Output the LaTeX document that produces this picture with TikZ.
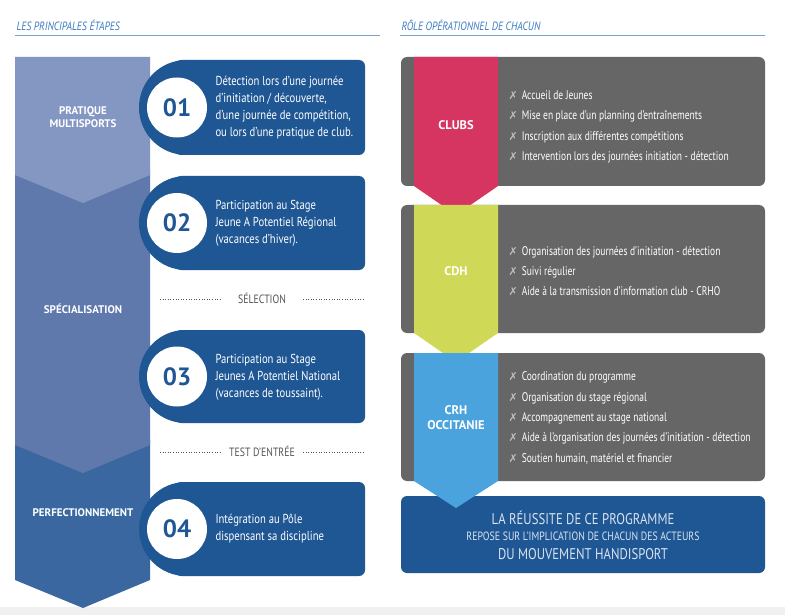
\documentclass[tikz,border=0pt]{standalone}
\usepackage{fontspec}
\setmainfont{PT Sans}
\newfontfamily\cond[FakeStretch=0.82]{PT Sans}
\newfontfamily\condn[FakeStretch=0.76]{PT Sans}
\newfontfamily\symf{DejaVu Sans}
\definecolor{hdr}{HTML}{3C7CC0}
\definecolor{dblue}{HTML}{1F5694}
\definecolor{seg1}{HTML}{8497C2}
\definecolor{seg2}{HTML}{6079AD}
\definecolor{seg3}{HTML}{3A67A0}
\definecolor{gbox}{HTML}{666666}
\definecolor{pinkc}{HTML}{D63461}
\definecolor{yelc}{HTML}{D0D957}
\definecolor{bluc}{HTML}{4AA3DC}
\definecolor{xmk}{HTML}{BDBDBD}
\definecolor{lt}{HTML}{D8E3F0}
\definecolor{dotc}{HTML}{555555}
\begin{document}
\begin{tikzpicture}[x=1pt,y=-1pt,
  hdrtxt/.style={anchor=west,text=hdr,font=\cond\itshape\fontsize{12}{14}\selectfont},
  segtxt/.style={text=white,font=\bfseries\fontsize{11}{13}\selectfont,align=center},
  steptxt/.style={anchor=west,text=white,align=left,font=\cond\fontsize{13}{17}\selectfont},
  numtxt/.style={circle,fill=white,minimum size=60pt,inner sep=0pt,text=dblue,font=\bfseries\fontsize{25}{25}\selectfont},
  sep/.style={text=dotc,font=\cond\fontsize{12}{14}\selectfont},
  dotl/.style={dotted,dotc,line width=0.6pt},
  item/.style={anchor=west,text=white,align=left,font=\condn\fontsize{12.5}{20.4}\selectfont},
  role/.style={text=white,font=\bfseries\fontsize{12.5}{15}\selectfont,align=center},
]
\useasboundingbox (0,0) rectangle (785,615);
\fill[white] (0,0) rectangle (785,615);
\fill[black!6] (0,607) rectangle (785,615);
% headers
\node[hdrtxt] (h1) at (13,25) {LES PRINCIPALES ÉTAPES};
\draw[hdr!70,line width=0.8pt] (15,35) -- (380,35);
\node[hdrtxt] (h2) at (398,25) {RÔLE OPÉRATIONNEL DE CHACUN};
\draw[hdr!70,line width=0.8pt] (400,35) -- (765,35);
% chevron column
\fill[seg3] (15,440) -- (150,440) -- (150,580) -- (83,608) -- (15,580) -- cycle;
\fill[seg2] (15,170) -- (150,170) -- (150,445) -- (83,473) -- (15,445) -- cycle;
\fill[seg1] (15,57) -- (150,57) -- (150,175) -- (83,203) -- (15,175) -- cycle;
\node[segtxt] (s1) at (83,117) {PRATIQUE\\MULTISPORTS};
\node[segtxt] (s2) at (83,309) {SPÉCIALISATION};
\node[segtxt] (s3) at (83,513) {PERFECTIONNEMENT};
% step boxes
\foreach \t/\b/\n in {60/155/01,176/270/02,330/423/03,482/576/04}{
  \pgfmathsetmacro\r{(\b-\t)/2}
  \fill[dblue,rounded corners=6pt] (175,\t) rectangle (365,\b);
  \fill[dblue] ({139+\r},{(\t+\b)/2}) circle[radius=\r];
  \fill[dblue] ({139+\r},\t) rectangle (200,\b);
  \node[numtxt] (n\n) at (177,{(\t+\b)/2}) {\n};
}
\node[steptxt] (t1) at (212,108) {Détection lors d’une journée\\d’initiation / découverte,\\d’une journée de compétition,\\ou lors d’une pratique de club.};
\node[steptxt] (t2) at (212,223) {Participation au Stage\\Jeune A Potentiel Régional\\(vacances d’hiver).};
\node[steptxt] (t3) at (212,377) {Participation au Stage\\Jeunes A Potentiel National\\(vacances de toussaint).};
\node[steptxt] (t4) at (212,529) {Intégration au Pôle\\dispensant sa discipline};
% separators
\node[sep] (sel) at (262,298) {SÉLECTION};
\draw[dotl] (160,299) -- (220,299);
\draw[dotl] (303,299) -- (365,299);
\node[sep] (test) at (262,451) {TEST D’ENTRÉE};
\draw[dotl] (160,452) -- (220,452);
\draw[dotl] (303,452) -- (365,452);
% right side
\fill[dblue,rounded corners=6pt] (401,496) rectangle (765,573);
\foreach \t/\b in {57/186,205/333,353/481}{
  \fill[gbox,rounded corners=6pt] (401,\t) rectangle (765,\b);
}
\fill[pinkc] (414,57) -- (498,57) -- (498,186) -- (456,215) -- (414,186) -- cycle;
\fill[yelc] (414,205) -- (498,205) -- (498,333) -- (456,362) -- (414,333) -- cycle;
\fill[bluc] (414,353) -- (498,353) -- (498,481) -- (456,508) -- (414,481) -- cycle;
\node[role] (r1) at (456,125) {CLUBS};
\node[role] (r2) at (456,271) {CDH};
\node[role] (r3) at (456,418) {CRH\\OCCITANIE};
\newcommand\xm{{\color{xmk}\symf\fontsize{11}{11}\selectfont ✗}\hspace{4pt}}
\node[item] (i1) at (505,127) {\xm Accueil de Jeunes\\\xm Mise en place d’un planning d’entraînements\\\xm Inscription aux différentes compétitions\\\xm Intervention lors des journées initiation - détection};
\node[item] (i2) at (505,271) {\xm Organisation des journées d’initiation - détection\\\xm Suivi régulier\\\xm Aide à la transmission d’information club - CRHO};
\node[item] (i3) at (505,418) {\xm Coordination du programme\\\xm Organisation du stage régional\\\xm Accompagnement au stage national\\\xm Aide à l’organisation des journées d’initiation - détection\\\xm Soutien humain, matériel et financier};
\node[text=lt,font=\cond\fontsize{15.5}{16}\selectfont] (b1) at (583,518) {LA RÉUSSITE DE CE PROGRAMME};
\node[text=lt,font=\cond\fontsize{12}{13}\selectfont] (b2) at (583,536) {REPOSE SUR L’IMPLICATION DE CHACUN DES ACTEURS};
\node[text=lt,font=\cond\fontsize{15.5}{16}\selectfont] (b3) at (583,554) {DU MOUVEMENT HANDISPORT};
\end{tikzpicture}
\end{document}
